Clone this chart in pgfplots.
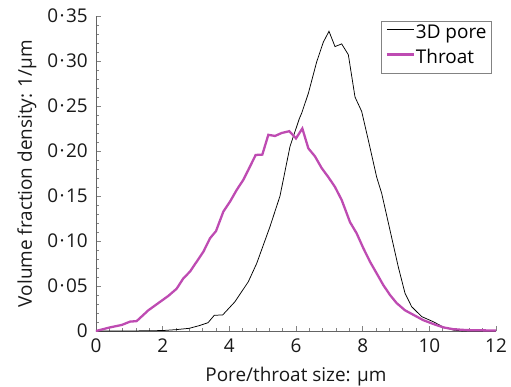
\documentclass[border=0pt]{standalone}
\usepackage{pgfplots}
\pgfplotsset{compat=1.18}
\usepackage{fontspec}
\setmainfont{Open Sans}
\definecolor{throat}{RGB}{190,75,178}
\definecolor{axgray}{RGB}{100,100,100}
\newcommand{\fs}{\fontsize{19}{22}\selectfont}
\newcommand{\cd}{\kern1.4bp·\kern1.4bp}
\begin{document}
\begin{tikzpicture}
\begin{axis}[
  scale only axis, width=400bp, height=315bp,
  xmin=0, xmax=12, ymin=0, ymax=0.35,
  axis lines*=left,
  axis line style={axgray, line width=0.8pt},
  tick align=inside,
  tick style={axgray!80, line width=0.6pt},
  major tick length=5bp, minor tick length=3bp,
  xtick={0,2,4,6,8,10,12},
  minor x tick num=4,
  ytick={0,0.05,0.10,0.15,0.20,0.25,0.30,0.35},
  yticklabels={0,0\cd05,0\cd10,0\cd15,0\cd20,0\cd25,0\cd30,0\cd35},
  minor y tick num=4,
  /pgf/number format/assume math mode=true,
  tick label style={font=\fs, text=black!90, inner sep=0pt},
  xticklabel style={anchor=base, yshift=-21bp},
  yticklabel style={anchor=east, xshift=-8bp},
  label style={font=\fs, text=black!90},
  xlabel={Pore/throat size: µm},
  ylabel={Volume fraction density: 1/µm},
  xlabel style={at={(axis description cs:0.5,-0.161)}, anchor=base},
  ylabel style={at={(axis description cs:-0.1725,0.5)}, anchor=center},
  legend cell align=left,
  legend style={at={(1,1)}, anchor=north east, xshift=-4.3bp, yshift=-4.7bp,
    draw=axgray!80, font=\fs, inner xsep=4bp, inner ysep=4bp,
    row sep=6bp, nodes={inner xsep=1bp, inner ysep=0bp, text height=14bp, text depth=5bp}},
  legend image code/.code={\draw[#1] (0bp,5bp) -- (27bp,5bp);},
]
\addplot[black, line width=0.75pt] coordinates {
(0,0) (1.0,0) (2.0,0.0005) (2.4,0.0015) (2.8,0.003) (3.1,0.006) (3.36,0.0092)
(3.55,0.0175) (3.8,0.0178) (4.17,0.0326) (4.57,0.0548) (4.82,0.075)
(5.22,0.116) (5.52,0.150) (5.82,0.205) (6.1,0.236) (6.17,0.242) (6.37,0.264)
(6.62,0.299) (6.82,0.321) (6.99,0.333) (7.17,0.316) (7.37,0.319) (7.57,0.307)
(7.77,0.260) (7.97,0.244) (8.17,0.212) (8.42,0.171) (8.57,0.153) (8.82,0.112)
(9.07,0.071) (9.27,0.042) (9.47,0.027) (9.77,0.016) (10.12,0.0103)
(10.42,0.0044) (10.72,0.001) (11.0,0) (12,0)
};
\addlegendentry{3D pore}
\addplot[throat, line width=2.3pt] coordinates {
(0,0) (0.42,0.004) (0.77,0.0067) (1.02,0.0104) (1.22,0.011) (1.57,0.023)
(1.87,0.031) (2.17,0.039) (2.42,0.047) (2.62,0.0585) (2.82,0.066) (3.02,0.077)
(3.22,0.088) (3.42,0.103) (3.6,0.111) (3.82,0.1326) (4.02,0.1437) (4.22,0.1567)
(4.42,0.168) (4.57,0.179) (4.79,0.1956) (4.99,0.196) (5.17,0.218) (5.37,0.2167)
(5.57,0.220) (5.8,0.222) (6.0,0.214) (6.19,0.225) (6.37,0.203) (6.57,0.194)
(6.77,0.181) (6.97,0.171) (7.17,0.160) (7.37,0.1456) (7.62,0.121) (7.82,0.1085)
(8.02,0.092) (8.22,0.077) (8.42,0.064) (8.62,0.051) (8.82,0.040) (9.02,0.031)
(9.27,0.023) (9.52,0.018) (9.82,0.012) (10.12,0.0078) (10.42,0.004)
(10.72,0.002) (11.12,0.001) (12,0.0005)
};
\addlegendentry{Throat}
\end{axis}
\pgfresetboundingbox
\path[use as bounding box] ([xshift=-96bp,yshift=-56bp]current axis.south west)
  rectangle ([xshift=15bp,yshift=16bp]current axis.north east);
\end{tikzpicture}
\end{document}
